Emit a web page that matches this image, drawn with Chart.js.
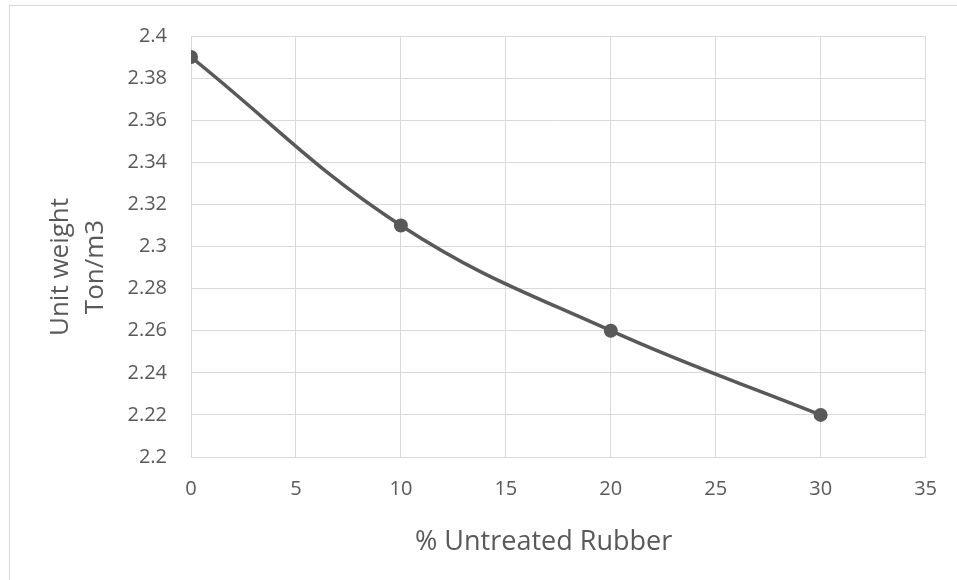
<!DOCTYPE html>
<html>
<head>
<meta charset="utf-8">
<script src="https://cdn.jsdelivr.net/npm/chart.js@4/dist/chart.umd.min.js"></script>
<style>
  html, body { margin: 0; padding: 0; background: #ffffff; }
  canvas { display: block; }
</style>
</head>
<body>
<canvas id="c" width="957" height="580"></canvas>
<script>
// Unit weight of concrete against untreated rubber content
const rubberPercent = [0, 10, 20, 30];
const unitWeight = [2.39, 2.31, 2.26, 2.22];
const xTickValues = [0, 5, 10, 15, 20, 25, 30, 35];
const yTickValues = [2.2, 2.22, 2.24, 2.26, 2.28, 2.3, 2.32, 2.34, 2.36, 2.38, 2.4];
const xTitle = '% Untreated Rubber';
const yTitleLines = ['Unit weight', 'Ton/m3'];

const TEXT = '#595959';
const GRID = '#d9d9d9';
const FONT = '"Open Sans", "DejaVu Sans", sans-serif';

// Outer frame and the two axis titles, drawn on the chart canvas
const frameAndTitles = {
  id: 'frameAndTitles',
  beforeDraw(chart) {
    const ctx = chart.ctx;
    ctx.save();
    ctx.strokeStyle = GRID;
    ctx.lineWidth = 1;
    ctx.beginPath();
    ctx.moveTo(9.5, chart.height);
    ctx.lineTo(9.5, 5.5);
    ctx.lineTo(chart.width, 5.5);
    ctx.stroke();
    ctx.restore();
  },
  afterDraw(chart) {
    const ctx = chart.ctx;
    const area = chart.chartArea;
    ctx.save();
    ctx.fillStyle = TEXT;
    ctx.font = '27px ' + FONT;
    ctx.textAlign = 'center';
    ctx.textBaseline = 'alphabetic';
    ctx.fillText(xTitle, area.left + (area.right - area.left) * 0.48, 550);

    ctx.font = '26px ' + FONT;
    const cy = 267;
    const baselines = [68, 103];
    yTitleLines.forEach((line, i) => {
      ctx.save();
      ctx.translate(baselines[i], cy);
      ctx.rotate(-Math.PI / 2);
      ctx.fillText(line, 0, 0);
      ctx.restore();
    });
    ctx.restore();
  }
};

new Chart(document.getElementById('c'), {
  type: 'line',
  data: {
    datasets: [{
      data: rubberPercent.map((x, i) => ({ x: x, y: unitWeight[i] })),
      borderColor: TEXT,
      backgroundColor: TEXT,
      borderWidth: 3.5,
      tension: 0.4,
      pointRadius: 7,
      pointHoverRadius: 7,
      pointBorderWidth: 0,
      pointBackgroundColor: TEXT,
      fill: false
    }]
  },
  options: {
    responsive: false,
    animation: false,
    devicePixelRatio: 1,
    layout: { padding: { left: 0, right: 29, top: 35, bottom: 0 } },
    plugins: {
      legend: { display: false },
      tooltip: { enabled: false },
      title: { display: false }
    },
    scales: {
      x: {
        type: 'linear',
        min: 0,
        max: 35,
        afterBuildTicks: s => { s.ticks = xTickValues.map(v => ({ value: v })); },
        afterFit: s => { s.height = 123; },
        grid: { color: GRID, lineWidth: 1, drawTicks: false },
        border: { color: GRID, width: 1 },
        ticks: {
          color: TEXT,
          font: { family: FONT, size: 20 },
          padding: 20,
          maxRotation: 0,
          callback: v => String(v)
        }
      },
      y: {
        type: 'linear',
        min: 2.2,
        max: 2.4,
        afterBuildTicks: s => { s.ticks = yTickValues.map(v => ({ value: v })); },
        afterFit: s => { s.width = 191; },
        grid: { color: GRID, lineWidth: 1, drawTicks: false },
        border: { color: GRID, width: 1 },
        ticks: {
          color: TEXT,
          font: { family: FONT, size: 20 },
          padding: 24,
          callback: v => String(Number(v.toFixed(2)))
        }
      }
    }
  },
  plugins: [frameAndTitles]
});
</script>
</body>
</html>
